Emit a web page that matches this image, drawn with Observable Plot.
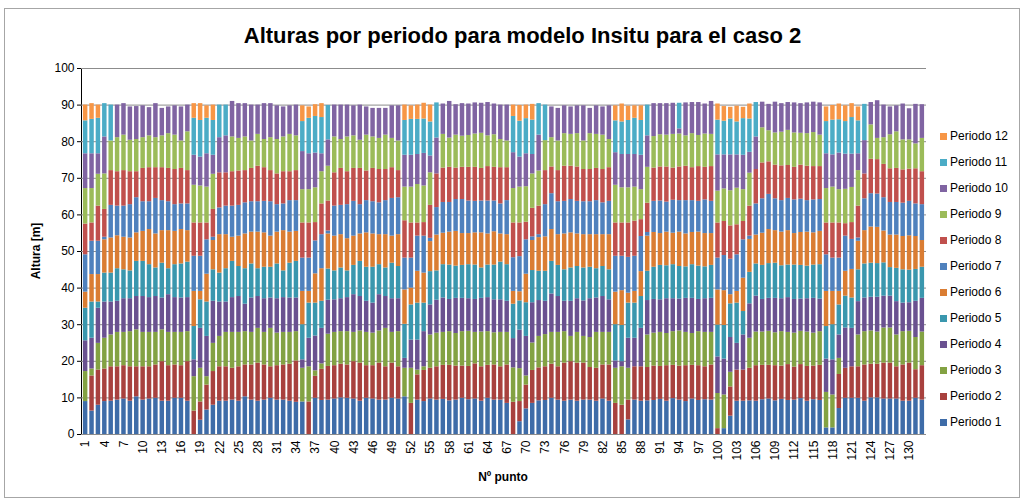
<!DOCTYPE html>
<html lang="es">
<head>
<meta charset="utf-8">
<title>Alturas por periodo para modelo Insitu para el caso 2</title>
<script src="https://cdn.jsdelivr.net/npm/d3@7"></script>
<script src="https://cdn.jsdelivr.net/npm/@observablehq/plot@0.6"></script>
<style>
  html, body { margin: 0; padding: 0; background: #fff; }
  #lienzo { position: relative; width: 1027px; height: 502px; overflow: hidden; font-family: "Liberation Sans", Arial, sans-serif; color: #000; }
  #lienzo svg { position: absolute; left: 0; top: 0; }
  #marco { position: absolute; left: 4px; top: 8px; width: 1016px; height: 490px; border: 1px solid #a6a6a6; box-sizing: border-box; }
  #titulo { position: absolute; left: 9px; top: 23px; width: 1027px; text-align: center; font: bold 22px "Liberation Sans Narrow", "Liberation Sans", sans-serif; }
  #ejeY { position: absolute; left: 36px; top: 251px; transform: translate(-50%, -50%) rotate(-90deg); font-weight: bold; font-size: 12px; white-space: nowrap; }
  #ejeX { position: absolute; left: 503px; top: 470px; transform: translateX(-50%); font-weight: bold; font-size: 12px; white-space: nowrap; }
  #leyenda { position: absolute; left: 940px; top: 123px; }
  .item { height: 26px; display: flex; align-items: center; font-size: 12px; white-space: nowrap; }
  .item i { display: inline-block; width: 7px; height: 7px; margin-right: 3px; }
</style>
</head>
<body>
<div id="lienzo">
  <div id="marco"></div>
  <div id="titulo">Alturas por periodo para modelo Insitu para el caso 2</div>
  <div id="ejeY">Altura [m]</div>
  <div id="ejeX">Nº punto</div>
  <div id="leyenda"></div>
</div>
<script>
// Altura ganada en cada periodo (m) para cada punto 1..132
const periodo1 = [
  9.0, 6.4, 8.0, 9.0, 9.1, 9.4, 9.7, 9.1, 10.3, 9.4,
  9.7, 9.9, 9.1, 9.1, 9.9, 9.9, 9.1, 0, 3.9, 6.7,
  8.0, 9.1, 9.1, 9.4, 9.1, 10.3, 9.4, 9.1, 9.4, 9.9,
  9.4, 9.4, 9.1, 8.8, 8.9, 0, 9.9, 9.3, 9.4, 9.7,
  10.0, 9.9, 9.7, 9.1, 9.9, 9.7, 9.4, 9.4, 9.9, 9.7,
  10.3, 0, 9.4, 9.0, 9.7, 9.4, 9.6, 9.2, 9.4, 9.9,
  9.5, 9.7, 9.1, 9.9, 9.4, 9.4, 8.5, 0, 3.5, 7.0,
  8.5, 9.2, 9.3, 9.9, 9.4, 9.1, 9.4, 9.1, 9.4, 9.4,
  9.1, 9.7, 9.1, 0, 0, 4.0, 9.4, 9.1, 9.2, 9.3,
  9.6, 9.1, 9.8, 9.4, 9.0, 9.7, 9.3, 9.5, 9.4, 0,
  1.6, 5.0, 9.1, 9.1, 9.2, 9.1, 9.5, 9.7, 9.2, 9.6,
  9.3, 9.4, 9.8, 9.1, 9.5, 9.3, 1.8, 1.8, 7.1, 9.9,
  9.9, 9.9, 9.1, 10.0, 10.0, 9.7, 9.7, 9.7, 9.1, 9.1,
  9.9, 9.4
];
const periodo2 = [
  0, 9.6, 9.6, 8.9, 9.4, 9.1, 9.1, 9.4, 8.2, 9.1,
  8.8, 9.1, 10.8, 9.7, 9.1, 8.9, 10.8, 6.4, 5.0, 6.8,
  9.2, 9.4, 9.4, 8.7, 9.4, 8.7, 9.6, 10.4, 9.6, 8.6,
  9.4, 9.6, 10.1, 11.3, 0, 8.9, 6.0, 8.5, 9.2, 9.1,
  9.2, 9.1, 10.2, 10.4, 8.9, 9.1, 10.1, 9.1, 9.6, 8.8,
  0, 8.5, 6.9, 8.5, 8.4, 9.1, 9.3, 9.7, 9.3, 8.8,
  9.1, 9.6, 9.4, 9.0, 9.6, 9.1, 10.5, 8.8, 5.5, 6.5,
  9.0, 9.0, 9.2, 9.3, 9.1, 10.4, 10.5, 10.4, 10.1, 8.9,
  9.0, 9.3, 9.9, 8.5, 8.0, 5.4, 9.1, 9.4, 9.1, 9.4,
  9.0, 9.7, 9.1, 9.3, 9.8, 9.2, 9.5, 9.0, 9.6, 1.6,
  0, 8.0, 8.5, 8.5, 8.9, 9.7, 9.4, 9.2, 9.6, 9.1,
  9.8, 9.0, 9.3, 9.5, 9.2, 9.6, 0, 0, 9.3, 8.2,
  8.6, 8.6, 9.9, 9.2, 9.2, 9.8, 9.8, 8.8, 9.9, 10.4,
  7.8, 9.4
];
const periodo3 = [
  8.2, 1.9, 7.3, 8.4, 8.7, 9.4, 9.1, 9.6, 10.1, 9.4,
  9.4, 8.9, 8.7, 9.1, 8.9, 9.1, 8.2, 9.4, 9.2, 2.3,
  7.7, 8.3, 9.4, 9.8, 9.4, 9.1, 8.9, 9.5, 8.9, 10.5,
  8.9, 8.9, 8.7, 8.0, 9.2, 9.6, 1.5, 1.5, 8.8, 9.1,
  8.9, 9.1, 8.0, 8.8, 9.1, 8.9, 8.8, 10.5, 8.4, 9.6,
  7.8, 9.6, 1.3, 1.0, 9.1, 9.2, 9.0, 9.2, 8.9, 9.4,
  9.6, 8.6, 9.5, 9.2, 8.8, 9.4, 8.9, 9.4, 9.0, 2.5,
  7.5, 8.6, 8.8, 8.7, 9.4, 8.6, 6.9, 8.4, 7.3, 8.2,
  9.8, 8.9, 8.9, 9.6, 10.5, 8.7, 0, 0, 8.9, 9.0,
  9.3, 8.8, 9.2, 9.6, 9.1, 8.7, 9.3, 9.4, 8.9, 9.6,
  9.2, 4.0, 0, 0, 8.2, 9.2, 9.1, 9.3, 9.0, 9.4,
  8.8, 9.3, 9.1, 9.4, 9.0, 9.2, 9.7, 9.0, 4.4, 0,
  0, 8.7, 9.1, 9.1, 8.8, 9.6, 9.6, 8.7, 9.1, 8.7,
  8.8, 9.2
];
const periodo4 = [
  8.4, 8.4, 9.6, 9.9, 9.0, 8.5, 9.2, 9.0, 9.1, 9.8,
  9.5, 9.8, 8.7, 10.3, 9.5, 9.4, 9.3, 4.6, 10.9, 11.0,
  11.5, 9.4, 8.3, 9.5, 9.8, 7.5, 9.4, 8.7, 9.2, 8.3,
  9.4, 9.5, 9.4, 9.2, 2.3, 7.8, 9.5, 9.7, 9.3, 8.9,
  9.0, 9.3, 10.3, 9.4, 8.5, 8.2, 9.9, 8.7, 9.2, 9.0,
  2.7, 7.7, 8.2, 9.6, 8.2, 9.0, 9.4, 8.8, 9.6, 9.1,
  8.9, 9.0, 9.2, 9.3, 9.0, 8.9, 8.5, 8.0, 10.5, 10.8,
  11.0, 9.8, 9.1, 10.5, 9.8, 8.3, 9.6, 9.2, 9.7, 10.6,
  9.4, 9.8, 8.9, 2.0, 1.4, 8.2, 7.8, 10.5, 9.4, 9.2,
  8.9, 9.5, 9.0, 8.7, 9.3, 9.6, 8.8, 9.2, 9.3, 10.0,
  9.8, 9.5, 7.3, 9.6, 9.4, 9.8, 8.9, 9.0, 9.4, 9.0,
  9.5, 9.2, 8.8, 9.1, 9.5, 8.9, 9.1, 9.6, 6.4, 11.0,
  10.5, 9.1, 9.2, 9.2, 9.5, 8.7, 8.7, 9.1, 7.8, 7.8,
  9.9, 9.2
];
const periodo5 = [
  8.9, 9.9, 1.7, 7.9, 7.9, 8.9, 7.9, 7.6, 9.6, 9.6,
  9.0, 7.8, 9.5, 7.1, 9.0, 9.3, 9.7, 9.1, 7.8, 9.4,
  8.6, 7.9, 9.1, 9.9, 8.2, 9.7, 9.3, 7.6, 8.6, 8.4,
  9.5, 7.3, 9.5, 10.0, 9.6, 9.6, 9.0, 7.4, 8.5, 7.9,
  8.4, 7.3, 8.0, 9.6, 9.3, 9.8, 8.2, 7.8, 9.7, 8.8,
  9.3, 9.6, 10.1, 7.8, 9.1, 8.0, 9.1, 9.4, 8.8, 9.0,
  9.3, 9.4, 8.3, 8.9, 9.5, 10.3, 10.0, 9.4, 8.0, 9.2,
  8.8, 8.0, 8.2, 8.9, 8.5, 8.6, 9.1, 8.8, 9.0, 8.6,
  8.0, 8.2, 8.2, 9.9, 9.9, 9.6, 9.6, 8.7, 8.0, 8.8,
  9.4, 9.0, 9.3, 8.9, 8.6, 9.2, 9.1, 8.7, 9.0, 8.7,
  9.2, 9.2, 11.0, 6.4, 8.6, 8.8, 9.3, 9.5, 9.6, 9.0,
  8.9, 9.4, 9.2, 8.9, 9.1, 9.4, 8.9, 9.6, 8.2, 8.7,
  8.3, 8.7, 9.3, 9.3, 9.2, 9.1, 7.8, 9.1, 9.1, 8.9,
  8.7, 8.5
];
const periodo6 = [
  4.4, 7.5, 7.5, 9.1, 9.6, 9.0, 8.9, 9.0, 7.8, 8.2,
  9.6, 9.3, 8.9, 10.4, 9.1, 9.4, 8.6, 9.6, 2.3, 7.6,
  8.0, 10.5, 9.3, 6.6, 8.3, 9.5, 8.7, 10.0, 9.4, 8.5,
  8.7, 11.0, 8.5, 8.2, 9.1, 3.2, 8.0, 8.9, 9.6, 9.5,
  9.1, 8.8, 8.0, 7.5, 9.4, 9.1, 8.2, 9.1, 7.4, 8.7,
  9.4, 4.6, 8.7, 8.2, 8.2, 9.8, 8.6, 9.0, 9.5, 8.7,
  8.5, 8.8, 9.6, 8.5, 9.1, 7.7, 8.2, 3.5, 2.5, 7.8,
  8.2, 9.2, 9.4, 8.7, 8.4, 9.8, 9.6, 8.9, 9.1, 8.9,
  9.3, 8.7, 9.6, 8.9, 9.5, 2.7, 3.2, 6.8, 9.6, 9.5,
  8.7, 9.2, 8.6, 9.4, 9.0, 8.8, 9.3, 9.1, 8.7, 9.6,
  9.5, 2.5, 3.2, 9.1, 9.0, 7.9, 8.8, 9.3, 8.9, 9.2,
  9.4, 8.6, 9.0, 9.3, 8.8, 9.1, 9.6, 9.1, 3.7, 6.8,
  7.8, 7.8, 9.1, 9.9, 9.9, 8.7, 8.9, 9.1, 9.1, 9.4,
  9.0, 7.3
];
const periodo7 = [
  10.2, 9.1, 9.1, 0.7, 8.9, 8.1, 8.5, 9.1, 9.6, 8.1,
  7.6, 9.7, 8.2, 7.9, 7.3, 7.0, 7.3, 9.6, 9.6, 9.4,
  0.9, 7.3, 7.8, 8.5, 8.4, 8.5, 8.3, 8.3, 8.6, 9.4,
  7.5, 7.3, 8.6, 8.4, 9.1, 9.1, 9.0, 9.3, 0.8, 8.2,
  8.0, 9.3, 9.5, 8.0, 8.8, 8.8, 8.7, 9.3, 10.3, 10.1,
  8.7, 8.2, 9.6, 10.1, 0.9, 7.5, 8.4, 8.1, 8.7, 9.3,
  8.9, 8.6, 8.7, 9.0, 8.4, 8.2, 9.3, 9.2, 9.6, 9.4,
  1.0, 0.8, 8.8, 9.8, 9.0, 8.9, 9.1, 8.9, 9.0, 9.0,
  9.3, 8.7, 9.1, 9.8, 9.4, 9.8, 9.6, 9.6, 1.0, 8.5,
  8.9, 8.2, 9.0, 8.6, 9.1, 8.7, 8.4, 9.2, 8.8, 8.7,
  9.6, 9.7, 10.0, 10.5, 0.9, 8.5, 9.4, 9.6, 8.7, 8.6,
  8.8, 9.2, 9.1, 8.6, 9.0, 8.7, 10.0, 9.1, 9.1, 9.6,
  8.2, 0.9, 8.7, 9.1, 9.1, 9.1, 8.9, 8.9, 9.1, 9.4,
  8.9, 9.8
];
const periodo8 = [
  8.4, 5.0, 9.6, 7.6, 9.5, 9.4, 9.7, 9.0, 7.1, 9.1,
  9.3, 8.4, 9.0, 9.1, 9.6, 9.7, 9.1, 9.1, 9.1, 4.6,
  7.6, 9.6, 9.1, 9.4, 9.4, 8.8, 9.1, 9.7, 9.2, 8.5,
  8.4, 8.8, 7.9, 8.2, 9.6, 9.6, 5.0, 8.4, 8.2, 9.1,
  10.1, 9.0, 9.0, 9.9, 8.1, 9.1, 9.1, 8.5, 8.4, 7.4,
  10.2, 9.6, 3.6, 3.7, 9.0, 9.2, 9.4, 9.6, 8.6, 8.8,
  9.2, 9.3, 8.9, 9.4, 9.2, 9.9, 9.0, 9.5, 9.2, 4.8,
  7.8, 7.8, 9.3, 7.3, 8.5, 9.6, 9.1, 9.4, 8.8, 8.8,
  8.8, 9.1, 9.2, 9.1, 9.1, 9.4, 9.6, 4.6, 8.0, 9.1,
  9.3, 9.6, 8.8, 9.2, 9.4, 9.0, 9.5, 8.9, 9.5, 9.6,
  9.3, 9.1, 8.2, 5.0, 8.2, 9.4, 9.8, 8.9, 9.2, 9.5,
  9.0, 8.9, 9.3, 9.4, 9.1, 9.0, 8.7, 9.6, 9.6, 3.4,
  4.6, 8.7, 6.8, 9.4, 9.4, 9.1, 9.2, 9.3, 9.1, 8.8,
  9.6, 9.0
];
const periodo9 = [
  9.7, 9.4, 8.7, 9.7, 8.1, 9.3, 9.7, 8.6, 8.8, 8.4,
  8.7, 8.2, 8.7, 9.5, 9.4, 7.5, 10.6, 10.3, 10.1, 9.8,
  9.6, 0, 0, 9.5, 8.9, 9.2, 7.5, 8.7, 7.7, 9.0,
  9.4, 9.5, 10.2, 9.5, 9.1, 9.1, 9.5, 8.8, 9.5, 9.8,
  7.9, 9.5, 8.9, 7.7, 9.8, 8.6, 8.5, 9.4, 8.0, 8.1,
  9.2, 9.8, 10.5, 10.0, 8.9, 0, 9.2, 8.0, 9.0, 8.5,
  8.7, 9.1, 9.6, 8.4, 8.9, 7.7, 7.3, 9.4, 9.8, 9.7,
  9.4, 9.6, 8.2, 8.0, 8.1, 8.9, 8.7, 9.1, 7.8, 9.8,
  9.3, 9.4, 7.7, 10.3, 9.6, 9.6, 9.3, 8.2, 9.8, 8.6,
  8.8, 8.7, 9.2, 9.0, 8.3, 9.3, 8.5, 9.1, 8.8, 8.7,
  8.9, 9.6, 10.0, 8.7, 9.0, 0, 9.6, 8.5, 8.8, 9.2,
  9.6, 9.4, 8.7, 8.9, 9.3, 8.6, 9.4, 9.8, 9.1, 9.4,
  9.6, 9.7, 0, 9.4, 5.8, 7.3, 9.3, 10.0, 8.2, 8.0,
  6.8, 9.1
];
const periodo10 = [
  9.5, 9.5, 5.6, 10.1, 0, 8.9, 8.6, 9.1, 9.0, 8.7,
  7.7, 9.3, 7.5, 7.3, 8.0, 9.3, 7.3, 8.2, 7.9, 9.1,
  5.2, 9.6, 10.1, 9.7, 9.5, 9.1, 9.8, 8.0, 9.8, 9.3,
  9.2, 8.2, 7.8, 8.4, 10.4, 9.8, 9.5, 4.9, 7.2, 8.7,
  9.4, 8.7, 8.2, 9.6, 7.7, 7.8, 8.2, 7.3, 8.9, 9.6,
  8.7, 8.7, 8.2, 8.9, 4.6, 9.8, 8.3, 10.0, 8.3, 8.9,
  8.6, 8.5, 8.2, 9.1, 8.4, 9.4, 9.8, 9.8, 8.2, 9.0,
  5.3, 9.8, 0, 8.4, 8.9, 7.6, 7.5, 7.6, 9.6, 6.9,
  7.8, 7.7, 9.2, 8.9, 9.1, 9.1, 8.9, 9.4, 8.6, 9.0,
  8.5, 8.6, 8.5, 1.4, 9.0, 8.5, 9.0, 8.2, 9.0, 9.9,
  9.3, 9.8, 9.1, 9.4, 5.7, 8.9, 7.0, 7.2, 8.4, 7.8,
  7.6, 8.2, 8.1, 8.4, 8.3, 8.8, 9.5, 8.8, 10.0, 9.6,
  9.1, 4.6, 9.1, 6.1, 10.3, 8.9, 7.6, 7.1, 9.8, 8.5,
  10.8, 9.2
];
const periodo11 = [
  9.0, 9.4, 9.7, 9.1, 9.8, 0, 0, 0, 0, 0,
  0, 0, 0, 0, 0, 0, 0, 10.1, 10.0, 9.7,
  9.5, 8.9, 8.4, 0, 0, 0, 0, 0, 0, 0,
  0, 0, 0, 0, 8.2, 9.7, 10.0, 9.9, 9.4, 0,
  0, 0, 0, 0, 0, 0, 0, 0, 0, 0,
  9.5, 9.8, 9.6, 9.4, 9.3, 9.6, 0, 0, 0, 0,
  0, 0, 0, 0, 0, 0, 0, 9.9, 9.8, 9.6,
  9.4, 8.6, 9.7, 0, 0, 0, 0, 0, 0, 0,
  0, 0, 0, 8.7, 8.9, 9.3, 9.9, 9.5, 8.4, 0,
  0, 0, 0, 7.0, 0, 0, 0, 0, 0, 9.5,
  9.2, 9.8, 9.0, 10.0, 9.1, 9.4, 0, 0, 0, 0,
  0, 0, 0, 0, 0, 0, 8.8, 9.5, 9.1, 8.9,
  10.0, 9.0, 9.9, 0, 0, 0, 0, 0, 0, 0,
  0, 0
];
const periodo12 = [
  4.3, 4.3, 3.6, 0, 0, 0, 0, 0, 0, 0,
  0, 0, 0, 0, 0, 0, 0, 4.0, 4.6, 3.4,
  4.2, 0, 0, 0, 0, 0, 0, 0, 0, 0,
  0, 0, 0, 0, 4.3, 3.1, 3.2, 3.8, 0, 0,
  0, 0, 0, 0, 0, 0, 0, 0, 0, 0,
  4.2, 3.7, 3.9, 4.3, 4.6, 0, 0, 0, 0, 0,
  0, 0, 0, 0, 0, 0, 0, 3.1, 4.3, 3.7,
  4.3, 0, 0, 0, 0, 0, 0, 0, 0, 0,
  0, 0, 0, 4.1, 4.9, 3.9, 3.4, 4.0, 0, 0,
  0, 0, 0, 0, 0, 0, 0, 0, 0, 4.4,
  4.0, 3.2, 4.3, 3.1, 4.1, 0, 0, 0, 0, 0,
  0, 0, 0, 0, 0, 0, 4.0, 4.0, 4.3, 4.3,
  3.8, 3.8, 0, 0, 0, 0, 0, 0, 0, 0,
  0, 0
];

const series = [periodo1, periodo2, periodo3, periodo4, periodo5, periodo6,
                periodo7, periodo8, periodo9, periodo10, periodo11, periodo12];
const periodos = series.map((_, k) => `Periodo ${k + 1}`);
const colores = ["#3E6CA8", "#A8413E", "#83A243", "#6A5190", "#3A97AE", "#DA7D33",
                 "#4F81BD", "#C0504D", "#9BBB59", "#8064A2", "#4BACC6", "#F79646"];
const puntos = d3.range(1, periodo1.length + 1);
const marcasY = d3.range(0, 101, 10);

// Tabla larga: un registro por punto y periodo, apilado de Periodo 1 (abajo) a Periodo 12
const filas = [];
puntos.forEach((p, i) => {
  series.forEach((s, k) => filas.push({punto: p, periodo: periodos[k], altura: s[i]}));
});

const grafico = Plot.plot({
  width: 1027,
  height: 502,
  marginLeft: 81,
  marginRight: 101,
  marginTop: 68,
  marginBottom: 68,
  style: {background: "transparent", fontFamily: "'Liberation Sans', Arial, sans-serif", fontSize: "12px", color: "#000"},
  x: {
    domain: puntos,
    padding: 0.3,
    label: null,
    tickSize: 0,
    tickPadding: 6,
    tickRotate: -90,
    tickFormat: d => (d - 1) % 3 === 0 ? String(d) : ""
  },
  y: {domain: [0, 100], ticks: marcasY, label: null, tickSize: 4, tickPadding: 3, line: true},
  color: {domain: periodos, range: colores},
  marks: [
    Plot.ruleY(marcasY, {stroke: "#8c8c8c", strokeWidth: 1}),
    Plot.barY(filas, {x: "punto", y: "altura", fill: "periodo"})
  ]
});
document.getElementById("lienzo").appendChild(grafico);

// Leyenda a la derecha, de Periodo 12 (arriba) a Periodo 1 (abajo)
const leyenda = d3.select("#leyenda");
periodos.slice().reverse().forEach(nombre => {
  const fila = leyenda.append("div").attr("class", "item");
  fila.append("i").style("background", colores[periodos.indexOf(nombre)]);
  fila.append("span").text(nombre);
});
</script>
</body>
</html>
